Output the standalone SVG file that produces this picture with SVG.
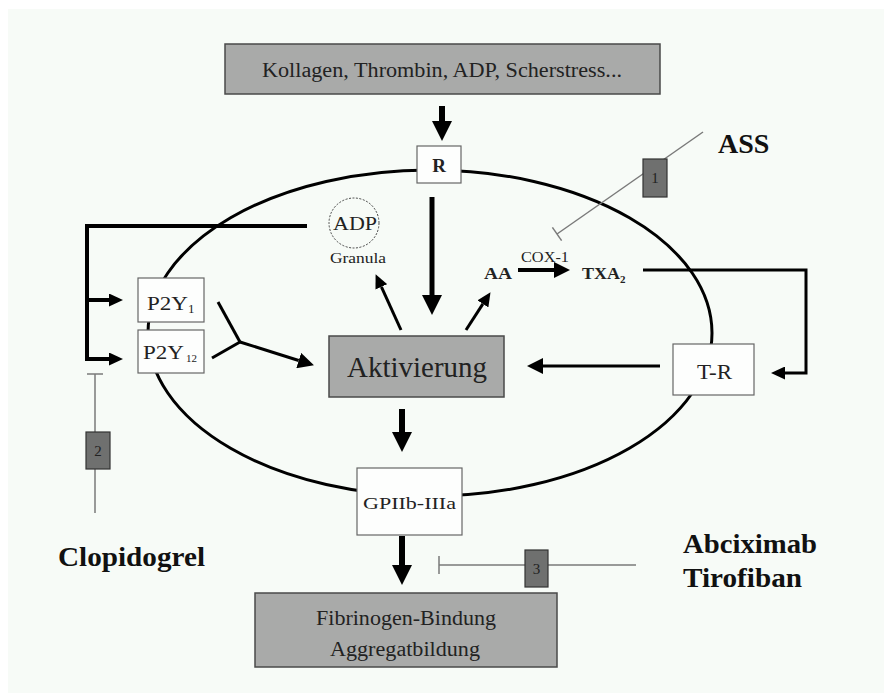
<svg xmlns="http://www.w3.org/2000/svg" width="884" height="693" viewBox="0 0 884 693">
<style>
.t{font-family:"Liberation Serif","Times New Roman",serif;fill:#222;}
.gbox{fill:#a9aaa9;stroke:#4a4a4a;stroke-width:1.5;}
.wbox{fill:#fdfefd;stroke:#666;stroke-width:1.2;}
.nbox{fill:#6f706f;stroke:#333;stroke-width:1.2;}
.thick{stroke:#000;fill:none;}
.inh{stroke:#7a7a7a;stroke-width:1.5;fill:none;}
.drug{font-family:"Liberation Serif","Times New Roman",serif;font-weight:bold;font-size:28px;fill:#111;}
</style>
<defs>
<marker id="big" markerUnits="userSpaceOnUse" markerWidth="20" markerHeight="20" refX="0" refY="10" orient="auto" viewBox="0 0 20 20"><path d="M0,0 L20,10 L0,20 z" fill="#000"/></marker>
<marker id="mid" markerUnits="userSpaceOnUse" markerWidth="16" markerHeight="16" refX="0" refY="8" orient="auto" viewBox="0 0 16 16"><path d="M0,0 L16,8 L0,16 z" fill="#000"/></marker>
<marker id="sm" markerUnits="userSpaceOnUse" markerWidth="14" markerHeight="13" refX="0" refY="6.5" orient="auto" viewBox="0 0 14 13"><path d="M0,0 L14,6.5 L0,13 z" fill="#000"/></marker>
</defs>
<rect x="0" y="0" width="884" height="693" fill="#ffffff"/>
<rect x="8" y="9" width="876" height="684" fill="#f7fbf7"/>

<g id="cell">
<ellipse cx="430" cy="333" rx="282" ry="163" fill="none" stroke="#000" stroke-width="3"/>
</g>

<g id="connectors">
<line class="thick" x1="442" y1="106" x2="442" y2="121" stroke-width="6" marker-end="url(#big)"/>
<line class="thick" x1="432" y1="197" x2="432" y2="295" stroke-width="5" marker-end="url(#big)"/>
<line class="thick" x1="402" y1="409" x2="402" y2="432" stroke-width="6" marker-end="url(#big)"/>
<line class="thick" x1="402" y1="536" x2="402" y2="565" stroke-width="6" marker-end="url(#big)"/>
<line class="thick" x1="401" y1="330" x2="381.4" y2="286.9" stroke-width="3" marker-end="url(#sm)"/>
<line class="thick" x1="466" y1="330" x2="482.9" y2="303.9" stroke-width="3" marker-end="url(#sm)"/>
<line class="thick" x1="518" y1="270" x2="554" y2="270" stroke-width="4" marker-end="url(#mid)"/>
<polyline class="thick" points="643,270 806,270 806,373 785,373" stroke-width="3" marker-end="url(#sm)"/>
<line class="thick" x1="660" y1="366" x2="543" y2="366" stroke-width="3" marker-end="url(#mid)"/>
<polyline class="thick" points="307,226 87,226 87,359 109,359" stroke-width="4" marker-end="url(#sm)"/>
<line class="thick" x1="87" y1="300" x2="109" y2="300" stroke-width="4" marker-end="url(#sm)"/>
<line class="thick" x1="218" y1="302" x2="240" y2="342" stroke-width="3"/>
<line class="thick" x1="212" y1="358" x2="240" y2="342" stroke-width="3"/>
<line class="thick" x1="240" y1="342" x2="298.7" y2="360.5" stroke-width="3" marker-end="url(#mid)"/>
<line class="inh" x1="703" y1="132" x2="557" y2="234"/>
<line class="inh" x1="552.4" y1="227.4" x2="561.6" y2="240.6"/>
<line class="inh" x1="95" y1="374" x2="95" y2="513"/>
<line class="inh" x1="87" y1="374" x2="103" y2="374"/>
<line class="inh" x1="439" y1="565" x2="636" y2="565"/>
<line class="inh" x1="439" y1="556" x2="439" y2="574"/>
</g>

<g id="stimuli">
<rect class="gbox" x="225" y="44" width="435" height="50"/>
<text class="t" x="262" y="77" font-size="20" textLength="360" lengthAdjust="spacingAndGlyphs" fill="#333">Kollagen, Thrombin, ADP, Scherstress...</text>
</g>
<g id="R">
<rect class="wbox" x="417" y="146" width="44" height="37"/>
<text class="t" x="439" y="172" font-size="19" font-weight="bold" text-anchor="middle">R</text>
</g>
<g id="ADP">
<circle cx="354" cy="223" r="25" fill="none" stroke="#444" stroke-width="1" stroke-dasharray="2 1.5"/>
<text class="t" x="333" y="230" font-size="18" textLength="44" lengthAdjust="spacingAndGlyphs">ADP</text>
<text class="t" x="330" y="263" font-size="14" textLength="56" lengthAdjust="spacingAndGlyphs">Granula</text>
</g>
<g id="AA">
<text class="t" x="484" y="279" font-size="17" font-weight="bold" textLength="28" lengthAdjust="spacingAndGlyphs">AA</text>
<text class="t" x="521" y="262" font-size="15" textLength="48" lengthAdjust="spacingAndGlyphs">COX-1</text>
</g>
<g id="TXA2">
<text class="t" x="582" y="279" font-size="17" font-weight="bold"><tspan textLength="38" lengthAdjust="spacingAndGlyphs">TXA</tspan><tspan font-size="11" dy="4">2</tspan></text>
</g>
<g id="P2Y1">
<rect class="wbox" x="138" y="278" width="66" height="44"/>
<text class="t" x="147" y="310" font-size="19"><tspan textLength="41" lengthAdjust="spacingAndGlyphs">P2Y</tspan><tspan font-size="13" dy="3">1</tspan></text>
</g>
<g id="P2Y12">
<rect class="wbox" x="138" y="330" width="66" height="43"/>
<text class="t" x="143" y="359" font-size="19"><tspan textLength="41" lengthAdjust="spacingAndGlyphs">P2Y</tspan><tspan font-size="11" dy="3" dx="2">12</tspan></text>
</g>
<g id="Aktivierung">
<rect class="gbox" x="329" y="336" width="175" height="61"/>
<text class="t" x="347" y="377" font-size="29" textLength="140" lengthAdjust="spacingAndGlyphs">Aktivierung</text>
</g>
<g id="TR">
<rect class="wbox" x="673" y="344" width="81" height="51"/>
<text class="t" x="697" y="379" font-size="21" textLength="35" lengthAdjust="spacingAndGlyphs" fill="#333">T-R</text>
</g>
<g id="GPIIb">
<rect class="wbox" x="357" y="468" width="105" height="67"/>
<text class="t" x="363" y="509" font-size="17" textLength="93" lengthAdjust="spacingAndGlyphs" fill="#333">GPIIb-IIIa</text>
</g>
<g id="Fibrinogen">
<rect class="gbox" x="255" y="593" width="302" height="74"/>
<text class="t" x="316" y="625" font-size="20" textLength="180" lengthAdjust="spacingAndGlyphs" fill="#333">Fibrinogen-Bindung</text>
<text class="t" x="330" y="656" font-size="20" textLength="150" lengthAdjust="spacingAndGlyphs" fill="#333">Aggregatbildung</text>
</g>
<g id="inh1">
<rect class="nbox" x="643" y="159" width="24" height="38"/>
<text class="t" x="655" y="183" font-size="15" text-anchor="middle">1</text>
<text class="drug" x="718" y="153">ASS</text>
</g>
<g id="inh2">
<rect class="nbox" x="86" y="432" width="24" height="37"/>
<text class="t" x="98" y="456" font-size="15" text-anchor="middle">2</text>
<text class="drug" x="58" y="566" textLength="147" lengthAdjust="spacingAndGlyphs">Clopidogrel</text>
</g>
<g id="inh3">
<rect class="nbox" x="525" y="550" width="23" height="37"/>
<text class="t" x="536.5" y="574" font-size="15" text-anchor="middle">3</text>
<text class="drug" x="683" y="553" textLength="134" lengthAdjust="spacingAndGlyphs">Abciximab</text>
<text class="drug" x="683" y="587" textLength="119" lengthAdjust="spacingAndGlyphs">Tirofiban</text>
</g>
</svg>
